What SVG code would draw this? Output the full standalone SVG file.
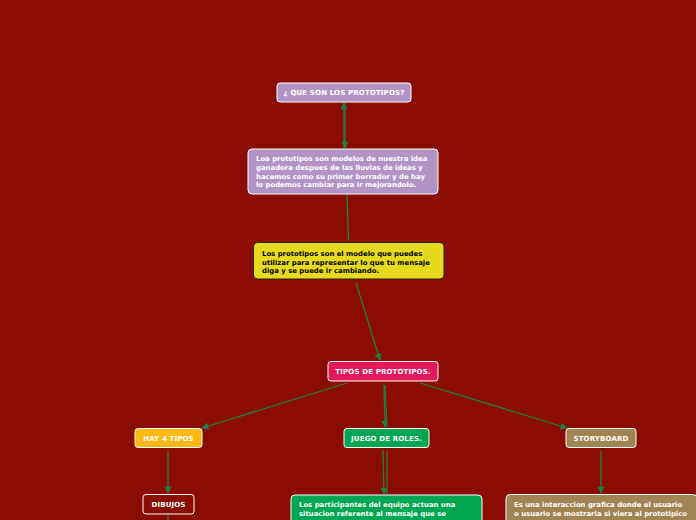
<svg xmlns="http://www.w3.org/2000/svg" width="696" height="520" viewBox="0 0 696 520">
<defs>
<style>
.t{font-family:"DejaVu Sans",Verdana,sans-serif;font-weight:bold;font-size:6.9px;fill:#ffffff}
.h{font-size:7px;letter-spacing:0.15px}
.c{text-anchor:middle}
.dk{fill:#000000}
.box{stroke:#ffffff;stroke-width:1}
.ln{stroke:#1f7f45;stroke-width:1.3;fill:none}
</style>
<marker id="ah" viewBox="0 0 10 10" refX="9" refY="5" markerWidth="8" markerHeight="7" markerUnits="userSpaceOnUse" orient="auto">
<path d="M0,0 L10,5 L0,10 z" fill="#1f7f45"/>
</marker>
</defs>
<rect width="696" height="520" fill="#8a0c02"/>
<g id="connectors">
<line class="ln" x1="344" y1="148" x2="344" y2="103" marker-end="url(#ah)"/>
<line class="ln" x1="345" y1="103" x2="345" y2="148" marker-end="url(#ah)"/>
<line class="ln" x1="347" y1="194" x2="348.5" y2="240"/>
<line class="ln" x1="356" y1="283" x2="380" y2="360" marker-end="url(#ah)"/>
<line class="ln" x1="347" y1="383" x2="202" y2="428" marker-end="url(#ah)"/>
<line class="ln" x1="384" y1="385" x2="385" y2="427" marker-end="url(#ah)"/>
<line class="ln" x1="385" y1="385" x2="387" y2="427"/>
<line class="ln" x1="420" y1="383" x2="567" y2="428" marker-end="url(#ah)"/>
<line class="ln" x1="168" y1="451" x2="168" y2="493" marker-end="url(#ah)"/>
<line class="ln" x1="168" y1="515" x2="168" y2="520"/>
<line class="ln" x1="383" y1="450" x2="384" y2="494" marker-end="url(#ah)"/>
<line class="ln" x1="387" y1="451" x2="387" y2="494"/>
<line class="ln" x1="601" y1="451" x2="601" y2="493" marker-end="url(#ah)"/>
</g>
<g id="n1">
<rect class="box" x="277" y="83" width="134" height="19" rx="3" fill="#b294c4"/>
<text class="t h c" x="344" y="95">¿ QUE SON LOS PROTOTIPOS?</text>
</g>
<g id="n2">
<rect class="box" x="248" y="149" width="190" height="45" rx="4" fill="#b294c4"/>
<text class="t" x="256" y="161">Loa prototipos son modelos de nuestra idea</text>
<text class="t" x="256" y="169.5">ganadora despues de las lluvias de ideas y</text>
<text class="t" x="256" y="178.5">hacemos como su primer borrador y de hay</text>
<text class="t" x="256" y="187">lo podemos cambiar para ir mejorandolo.</text>
</g>
<g id="n3">
<rect x="253.5" y="242.5" width="190.5" height="36.5" rx="4" fill="#e6d91e" stroke="#222222" stroke-width="1"/>
<text class="t dk" x="262" y="256">Los prototipos son el modelo que puedes</text>
<text class="t dk" x="262" y="264.5">utilizar para representar lo que tu mensaje</text>
<text class="t dk" x="262" y="273">diga y se puede ir cambiando.</text>
</g>
<g id="n4">
<rect class="box" x="328" y="361.5" width="110" height="19.5" rx="3" fill="#e2195b"/>
<text class="t h c" x="383" y="374">TIPOS DE PROTOTIPOS.</text>
</g>
<g id="n5">
<rect class="box" x="135" y="428.5" width="67" height="19" rx="3" fill="#fdb913"/>
<text class="t h c" x="168.5" y="441">HAY 4 TIPOS</text>
</g>
<g id="n6">
<rect class="box" x="344" y="428.5" width="85" height="19" rx="3" fill="#00a651"/>
<text class="t h c" x="386.5" y="441">JUEGO DE ROLES.</text>
</g>
<g id="n7">
<rect class="box" x="566" y="428.5" width="70" height="19" rx="3" fill="#a08553"/>
<text class="t h c" x="601" y="441">STORYBOARD</text>
</g>
<g id="n8">
<rect class="box" x="143" y="494.5" width="51" height="19.5" rx="3" fill="#8a0c02"/>
<text class="t h c" x="168.5" y="507">DIBUJOS</text>
</g>
<g id="n9">
<rect class="box" x="291" y="495" width="191" height="40" rx="4" fill="#00a651"/>
<text class="t" x="299" y="507">Los participantes del equipo actuan una</text>
<text class="t" x="299" y="516">situacion referente al mensaje que se</text>
</g>
<g id="n10">
<rect class="box" x="506" y="494.5" width="191" height="40" rx="4" fill="#a08553"/>
<text class="t" x="514" y="507">Es una interaccion grafica donde el usuario</text>
<text class="t" x="514" y="516">o usuario se mostraria si viera al prototipico</text>
</g>
</svg>
